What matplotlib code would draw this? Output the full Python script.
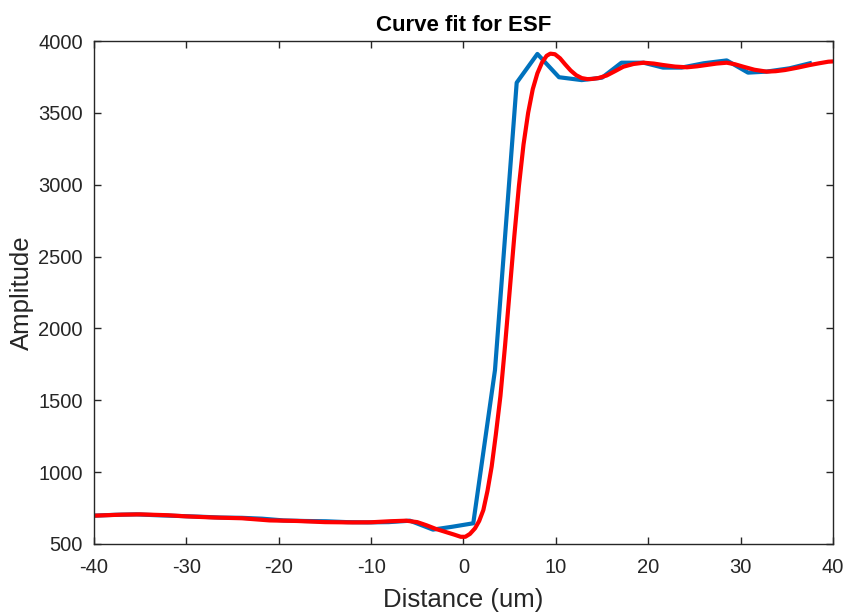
import matplotlib
matplotlib.use("Agg")
import matplotlib.pyplot as plt

plt.rcParams['font.family'] = ['Liberation Sans', 'DejaVu Sans']
plt.rcParams['axes.unicode_minus'] = False

# measured edge spread function (samples)
dist_esf = [-40.0, -37.7, -35.4, -33.2, -30.9, -28.6, -26.3, -24.0, -21.8, -19.5,
            -17.2, -14.9, -12.6, -10.4, -8.1, -5.8, -3.3, -1.2, 1.06, 3.41,
            5.76, 8.0, 10.34, 12.8, 15.0, 17.1, 19.5, 21.6, 23.6, 26.0,
            28.5, 30.8, 32.8, 35.3, 37.5]
amp_esf = [697, 703, 706, 700, 695, 690, 684, 682, 676, 664,
           660, 658, 652, 650, 652, 662, 600, 620, 644, 1710,
           3710, 3910, 3748, 3728, 3745, 3849, 3849, 3815, 3815, 3845,
           3865, 3780, 3787, 3810, 3845]

# fitted curve
dist_fit = [-40, -37, -35, -32, -30, -27, -24, -21, -18, -15, -12, -10, -8, -6.2,
            -5, -4, -3, -2, -1, -0.3, 0.2, 0.7, 1.25, 1.7, 2.15, 2.6, 3.05, 3.5,
            4.0, 4.5, 5.0, 5.5, 6.0, 6.5, 7.0, 7.5, 8.0, 8.5, 9.0, 9.4, 9.9,
            10.45, 11.0, 11.6, 12.2, 12.8, 13.4, 13.9, 14.6, 15.5, 16.4, 17.3,
            18.4, 19.5, 20.6, 21.6, 22.9, 24.2, 25.3, 26.3, 27.4, 28.5, 29.4,
            30.3, 31.5, 32.8, 33.8, 34.8, 36.2, 37.5, 38.5, 39.5, 40]
amp_fit = [697, 704, 706, 700, 692, 684, 679, 664, 660, 652, 650, 651, 658, 662,
           652, 630, 605, 585, 565, 550, 550, 570, 609, 660, 736, 870, 1038, 1260,
           1530, 1880, 2260, 2640, 2990, 3280, 3500, 3665, 3775, 3850, 3897, 3912, 3908,
           3880, 3838, 3795, 3762, 3742, 3735, 3736, 3742, 3760, 3790, 3821,
           3840, 3849, 3843, 3833, 3822, 3817, 3824, 3833, 3843, 3849, 3838,
           3821, 3800, 3787, 3790, 3798, 3815, 3833, 3845, 3856, 3858]

fig = plt.figure(figsize=(8.46, 6.13), dpi=100)
ax = fig.add_axes([0.1111, 0.1126, 0.8735, 0.8205])

ax.plot(dist_esf, amp_esf, color='#0072BD', lw=3)
ax.plot(dist_fit, amp_fit, color='#FF0000', lw=3)

ax.set_xlim(-40, 40)
ax.set_ylim(500, 4000)
ax.set_xticks(range(-40, 41, 10))
ax.set_yticks(range(500, 4001, 500))

ax.tick_params(direction='in', top=True, right=True, length=5, width=1,
               labelsize=14.5, colors='#262626')
ax.tick_params(axis='x', pad=10)
ax.tick_params(axis='y', pad=8)
for s in ax.spines.values():
    s.set_color('#262626')
    s.set_linewidth(1)

ax.set_xlabel('Distance (um)', fontsize=18.5, color='#262626', labelpad=8)
ax.set_ylabel('Amplitude', fontsize=18.5, color='#262626', labelpad=3)
ax.set_title('Curve fit for ESF', fontsize=16, fontweight='bold', pad=7)

fig.savefig('out.png', dpi=100)
